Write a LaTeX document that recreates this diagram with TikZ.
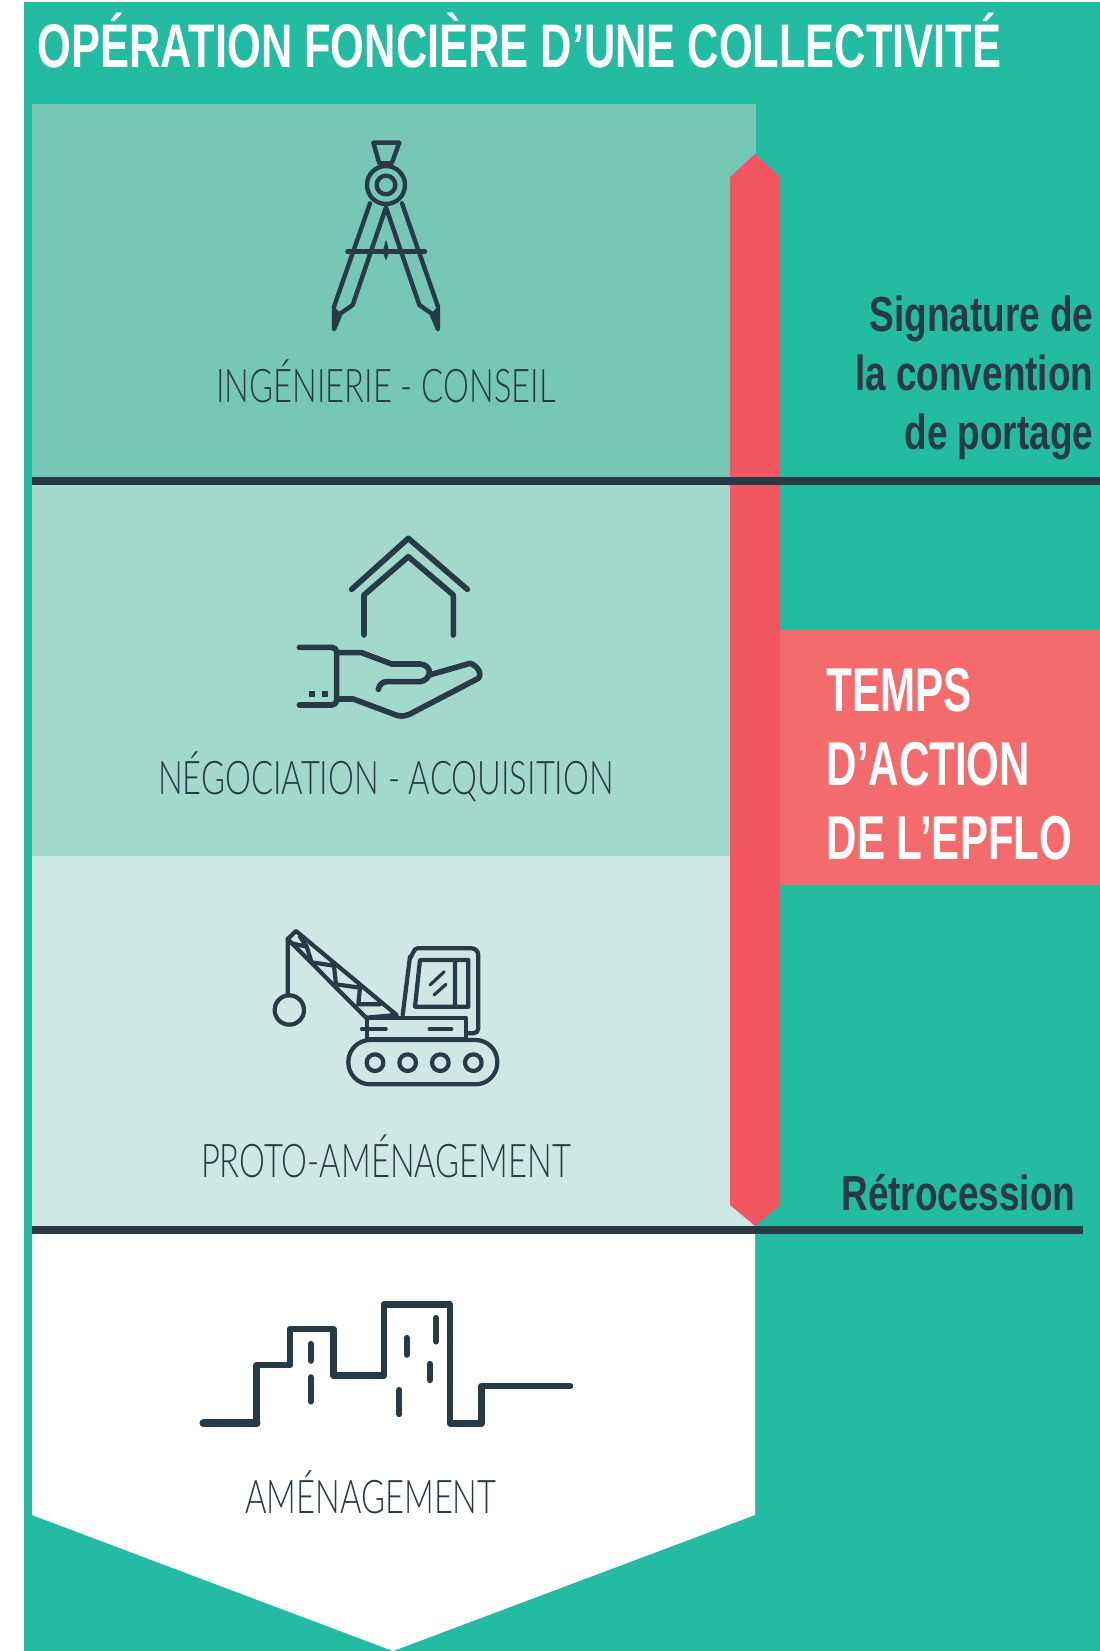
\documentclass[tikz,border=0pt]{standalone}
\usepackage{fontspec}
\setmainfont{Liberation Sans}
\newfontfamily\condfont[FakeStretch=.705]{Liberation Sans}
\newfontfamily\thinfont[FakeStretch=.705]{Lato Light}
\newfontfamily\sidefont[FakeStretch=.75]{Liberation Sans}
\newfontfamily\actionfont[FakeStretch=.68]{Liberation Sans}
\definecolor{fond}{HTML}{24BBA3}
\definecolor{bandeA}{HTML}{76C8B5}
\definecolor{bandeB}{HTML}{A3D9CB}
\definecolor{bandeC}{HTML}{CEE9E4}
\definecolor{rouge}{HTML}{F15662}
\definecolor{rougeB}{HTML}{F46B6E}
\definecolor{sombre}{HTML}{283A45}
\tikzset{
	icon/.style={draw=sombre,line width=#1,line cap=round,line join=round},
	icon/.default=1.6pt,
	bande/.style={text=sombre,font=\thinfont\fontsize{13.2}{15}\selectfont,inner sep=0pt},
	cote/.style={text=sombre,font=\sidefont\bfseries\fontsize{14}{16}\selectfont,inner sep=0pt,anchor=base east},
	action/.style={text=white,font=\actionfont\bfseries\fontsize{17.6}{20}\selectfont,inner sep=0pt,anchor=base west},
}
\begin{document}
\begin{tikzpicture}[x=.01cm,y=-.01cm]
	\useasboundingbox (0,0) rectangle (1100,1651);
	% fond et bandes
	\fill[white] (0,0) rectangle (1100,1651);
	\fill[fond] (24,2) rectangle (1100,1651);
	\fill[bandeA] (32,104) rectangle (756,481);
	\fill[bandeB] (32,481) rectangle (756,856);
	\fill[bandeC] (32,856) rectangle (756,1230);
	\fill[white] (32,1230) -- (755,1230) -- (755,1515) -- (393,1651) -- (32,1515) -- cycle;
	% fleche du temps
	\fill[rouge] (755,154) -- (780,177) -- (780,1205) -- (755,1226) -- (730,1205) -- (730,177) -- cycle;
	\fill[rougeB] (780,630) rectangle (1100,885);
	\fill[sombre] (32,477) rectangle (1100,485);
	\fill[sombre] (32,1226) rectangle (1083,1234);
	% textes
	\node[text=white,font=\condfont\bfseries\fontsize{17.5}{20}\selectfont,inner sep=0pt,anchor=base west] (titre) at (37,67) {OPÉRATION FONCIÈRE D’UNE COLLECTIVITÉ};
	\foreach \n/\x/\y/\t in {ing/386/402/INGÉNIERIE - CONSEIL,neg/386/794/NÉGOCIATION - ACQUISITION,proto/386/1177/PROTO-AMÉNAGEMENT,amen/371/1513/AMÉNAGEMENT}
		\node[bande,anchor=base] (\n) at (\x,\y) {\t};
	\foreach \n/\y/\t in {sigA/331/Signature de,sigB/390/la convention,sigC/449/de portage}
		\node[cote] (\n) at (1094,\y) {\t};
	\node[cote] (retro) at (1076,1210) {Rétrocession};
	\foreach \n/\y/\t in {tempsA/711/TEMPS,tempsB/785/D’ACTION,tempsC/859/DE L’EPFLO}
		\node[action] (\n) at (826,\y) {\t};
	% compas
	\begin{scope}[shift={(310,130)},scale=1/3]
		\draw[icon=1.25pt] (190,38) -- (268,38) -- (245,100) -- (208,100) -- cycle;
		\draw[icon=1.25pt] (228,165) circle (57) (228,165) circle (28);
		\draw[icon=1.25pt] (180,220) -- (72,530) -- (72,598) -- (92,550) -- (128,525) -- (228,232) -- (328,525) -- (364,550) -- (384,598) -- (384,530) -- (276,220);
		\fill[sombre] (72,530) -- (72,598) -- (92,550) -- cycle (384,530) -- (384,598) -- (364,550) -- cycle;
		\draw[icon=1.25pt] (112,365) -- (345,365);
		\fill[sombre] (228,328) -- (238,365) -- (228,392) -- (218,365) -- cycle;
	\end{scope}
	% maison et main
	\begin{scope}[shift={(270,510)},scale=1/3]
		\draw[icon] (245,238) -- (415,85) -- (592,238);
		\draw[icon] (282,375) -- (282,255) -- (415,140) -- (550,255) -- (550,375);
		\draw[icon] (88,412) -- (185,412) to[out=0,in=90] (200,425) -- (200,572) to[out=-90,in=0] (185,585) -- (88,585);
		\draw[icon] (200,428) -- (275,428) -- (365,462) -- (450,462) to[out=0,in=80] (478,490) to[out=-100,in=10] (450,515) -- (350,515) to[out=180,in=80] (325,538);
		\draw[icon] (478,495) -- (600,460) to[out=-15,in=50] (625,505) -- (420,612) to[out=-155,in=-25] (370,612) -- (250,567) -- (200,567);
		\foreach \x in {127,165} \fill[sombre] (\x-9,543) rectangle (\x+9,561);
	\end{scope}
	% grue
	\begin{scope}[shift={(260,915)},scale=1/3]
		\draw[icon=1.2pt] (88,285) circle (44) (83,75) -- (83,240);
		\draw[icon=1.2pt] (83,72) -- (108,48) -- (410,300) -- (318,308) -- cycle;
		\draw[icon=1.2pt] (95,85) -- (140,95) -- (155,142) -- (222,152) -- (228,208) -- (300,218) -- (295,268) -- (360,268);
		\draw[icon=1.2pt] (120,65) -- (140,95);
		\draw[icon=1.2pt] (320,308) rectangle (618,372);
		\draw[icon=1.2pt] (428,300) -- (450,125) to[out=-80,in=180] (472,100) -- (635,100) to[out=0,in=90] (655,120) -- (655,340) to[out=-90,in=0] (640,355) -- (620,355);
		\draw[icon=1.2pt] (480,135) -- (625,135) -- (625,275) -- (465,275) -- cycle (585,135) -- (585,275);
		\draw[icon=.9pt] (510,210) -- (553,170) (522,240) -- (558,208);
		\draw[icon=1pt] (305,342) -- (378,342) (508,342) -- (575,342);
		\draw[icon=1.2pt,rounded corners=6.2pt] (265,375) rectangle (712,508);
		\foreach \x in {345,443,541,640} \draw[icon=1.2pt] (\x,443) circle (25);
	\end{scope}
	% ville
	\begin{scope}[shift={(190,1280)},scale=1/3]
		\draw[icon=1.9pt] (200,430) -- (200,255) -- (300,255) -- (300,147) -- (430,147) -- (430,287) -- (582,287) -- (582,73) -- (780,73) -- (780,430) -- (875,430) -- (875,318) -- (1140,318);
		\draw[icon=2.2pt] (40,430) -- (200,430);
		\foreach \x/\a/\b in {362/192/242,362/292/364,650/174/224,738/114/184,720/252/300,628/330/402}
			\draw[icon=1.8pt] (\x,\a) -- (\x,\b);
	\end{scope}
\end{tikzpicture}
\end{document}
